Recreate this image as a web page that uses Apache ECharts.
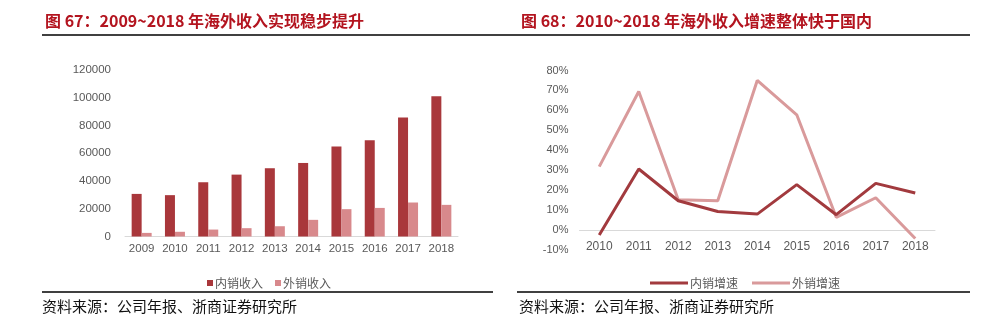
<!DOCTYPE html>
<html><head><meta charset="utf-8">
<script src="https://cdn.jsdelivr.net/npm/echarts@6/dist/echarts.min.js"></script>
<style>html,body{margin:0;padding:0;background:#fff}#c{width:996px;height:325px}</style>
</head><body><div id="c"></div>
<script>
const years1 = ['2009','2010','2011','2012','2013','2014','2015','2016','2017','2018'];
const domestic = [30700, 29800, 39100, 44600, 49200, 53000, 64800, 69400, 85700, 101000];
const overseas = [2600, 3400, 5000, 6000, 7400, 12000, 19700, 20600, 24500, 22800];
const years2 = ['2010','2011','2012','2013','2014','2015','2016','2017','2018'];
const domGrowth = [-2.5, 30.6, 14.7, 9.3, 8.0, 22.8, 7.7, 23.4, 18.6];
const ovsGrowth = [31.8, 69.5, 15.2, 14.7, 75.0, 57.8, 6.4, 16.2, -4.2];
const title1 = '图 67：2009~2018 年海外收入实现稳步提升';
const title2 = '图 68：2010~2018 年海外收入增速整体快于国内';
const source = '资料来源：公司年报、浙商证券研究所';

const FONT = '"Liberation Sans", Arial, "Noto Sans CJK SC", sans-serif';
const CJK = '"Noto Sans CJK SC", sans-serif';
const DARK = '#a9373b';
const LIGHT = '#d8898c';
const DARKL = '#a23a3e';
const LIGHTL = '#d99a9b';
const LBL = '#595959';

const chart = echarts.init(document.getElementById('c'), null, {renderer: 'canvas'});
chart.setOption({
  animation: false,
  backgroundColor: '#fff',
  textStyle: {fontFamily: FONT},
  title: [
    {text: title1, left: 40, top: 8, textStyle: {fontFamily: CJK, fontSize: 16, fontWeight: 'bold', color: '#b3141f'}},
    {text: title2, left: 516, top: 8, textStyle: {fontFamily: CJK, fontSize: 16, fontWeight: 'bold', color: '#b3141f'}}
  ],
  graphic: [
    {type: 'line', shape: {x1: 42, y1: 35, x2: 970, y2: 35}, style: {stroke: '#000', lineWidth: 1.5}},
    {type: 'line', shape: {x1: 42, y1: 292, x2: 493, y2: 292}, style: {stroke: '#000', lineWidth: 1.5}},
    {type: 'line', shape: {x1: 517, y1: 292, x2: 970, y2: 292}, style: {stroke: '#000', lineWidth: 1.5}},
    {type: 'text', left: 42, top: 299, style: {text: source, font: '15px "Noto Sans CJK SC", sans-serif', fill: '#111'}},
    {type: 'text', left: 519, top: 299, style: {text: source, font: '15px "Noto Sans CJK SC", sans-serif', fill: '#111'}}
  ],
  legend: [
    {left: 202, top: 272, itemWidth: 6, itemHeight: 6, itemGap: 12, icon: 'rect',
     textStyle: {fontFamily: CJK, fontSize: 12, color: LBL, padding: [0,0,0,-3]},
     data: ['内销收入', '外销收入']},
    {left: 645, top: 272, itemWidth: 38, itemHeight: 3, itemGap: 14, icon: 'rect',
     textStyle: {fontFamily: CJK, fontSize: 12, color: LBL, padding: [0,0,0,-3]},
     data: ['内销增速', '外销增速']}
  ],
  grid: [
    {left: 125, right: 538, top: 70, bottom: 88.5},
    {left: 579.5, right: 61, top: 70.5, bottom: 75}
  ],
  xAxis: [
    {type: 'category', gridIndex: 0, data: years1,
     axisLine: {lineStyle: {color: '#d9d9d9'}}, axisTick: {show: false},
     axisLabel: {color: LBL, fontSize: 11.5, margin: 7}},
    {type: 'category', gridIndex: 1, data: years2, offset: -19.9,
     axisLine: {onZero: false, lineStyle: {color: '#d9d9d9'}}, axisTick: {show: false},
     axisLabel: {color: LBL, fontSize: 12, margin: 11}}
  ],
  yAxis: [
    {type: 'value', gridIndex: 0, min: 0, max: 120000, interval: 20000,
     splitLine: {show: false}, axisLine: {show: false}, axisTick: {show: false},
     axisLabel: {color: LBL, fontSize: 11.5, margin: 14, formatter: v => String(v)}},
    {type: 'value', gridIndex: 1, min: -10, max: 80, interval: 10,
     splitLine: {show: false}, axisLine: {show: false}, axisTick: {show: false},
     axisLabel: {color: LBL, fontSize: 11, margin: 11, formatter: '{value}%'}}
  ],
  series: [
    {name: '内销收入', type: 'bar', xAxisIndex: 0, yAxisIndex: 0, data: domestic,
     barWidth: 10, barGap: '0%', itemStyle: {color: DARK}},
    {name: '外销收入', type: 'bar', xAxisIndex: 0, yAxisIndex: 0, data: overseas,
     barWidth: 10, barGap: '0%', itemStyle: {color: LIGHT}},
    {name: '内销增速', type: 'line', xAxisIndex: 1, yAxisIndex: 1, data: domGrowth,
     symbol: 'none', lineStyle: {color: DARKL, width: 3}, itemStyle: {color: DARKL}, z: 3},
    {name: '外销增速', type: 'line', xAxisIndex: 1, yAxisIndex: 1, data: ovsGrowth,
     symbol: 'none', lineStyle: {color: LIGHTL, width: 3}, itemStyle: {color: LIGHTL}, z: 2}
  ]
});
</script></body></html>
